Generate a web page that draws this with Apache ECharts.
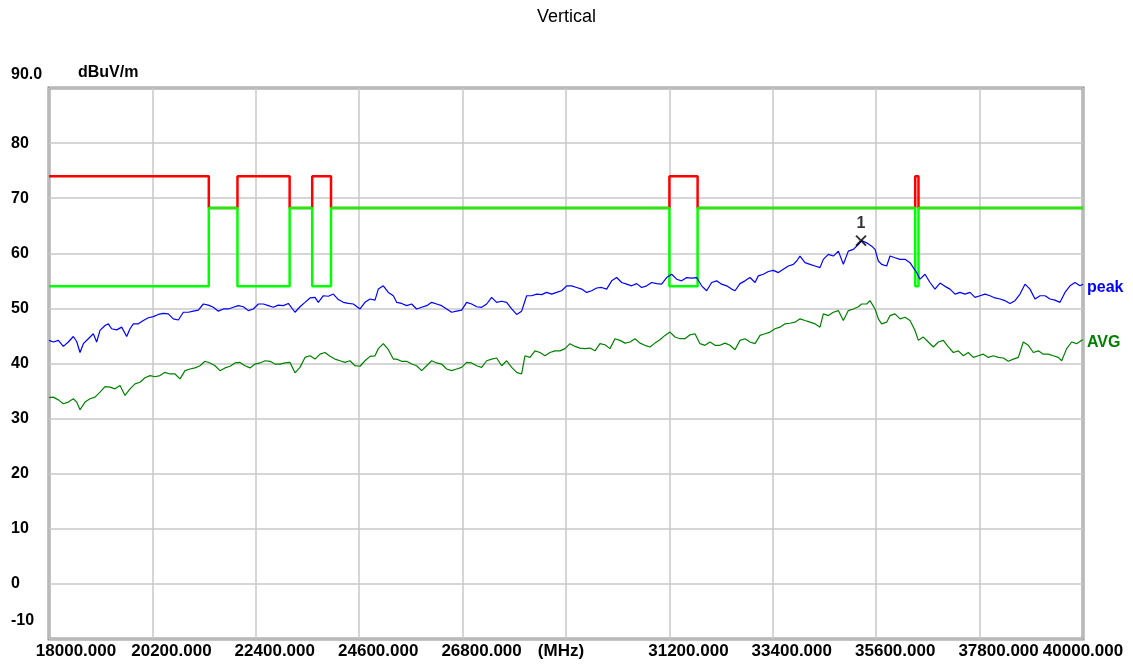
<!DOCTYPE html>
<html>
<head>
<meta charset="utf-8">
<script src="https://cdn.jsdelivr.net/npm/echarts@6/dist/echarts.min.js"></script>
<style>html,body{margin:0;padding:0;background:#fff;}#c{width:1133px;height:666px;}</style>
</head>
<body>
<div id="c"></div>
<script>
// ---- data ----
const titleText = 'Vertical';
const yUnit = 'dBuV/m';
const xTicks = [18000, 20200, 22400, 24600, 26800, 29000, 31200, 33400, 35600, 37800, 40000];
const xTickLabels = ['18000.000', '20200.000', '22400.000', '24600.000', '26800.000', '(MHz)', '31200.000', '33400.000', '35600.000', '37800.000', '40000.000'];
const yTicks = [-10, 0, 10, 20, 30, 40, 50, 60, 70, 80, 90];
const yTickLabels = ['-10', '0', '10', '20', '30', '40', '50', '60', '70', '80', '90.0'];

const restrictedBands = [[18000, 21400], [22010, 23120], [23600, 24000], [31200, 31800], [36430, 36500]];
const peakLimitRestricted = 74;
const avgLimitRestricted = 54;
const limitOther = 68.2;

const peakFreq = [18000,18092,18199,18305,18411,18518,18589,18660,18731,18837,
18943,19014,19085,19192,19262,19333,19440,19546,19653,19724,
19794,19901,20007,20114,20220,20326,20433,20539,20645,20752,
20858,20965,21071,21177,21284,21390,21496,21603,21709,21816,
21922,22028,22135,22241,22347,22454,22560,22667,22773,22879,
22986,23092,23234,23340,23447,23553,23660,23730,23837,23943,
24050,24156,24262,24369,24475,24617,24723,24830,24936,25007,
25113,25220,25326,
25397,25503,25610,25716,25822,25929,26035,26142,26248,26354,
26461,26567,26673,26780,26886,26993,27099,27205,27312,27418,
27524,27631,27737,27844,27950,28056,28163,28269,28375,28482,
28588,28695,28801,28907,29014,29120,29227,29333,29439,29546,
29652,29758,29865,29971,30078,30184,30290,30397,30503,30609,
30716,30822,30929,31035,31141,31248,31354,31460,31567,31673,
31780,31886,31992,32099,32205,32311,32418,32524,
32596,32702,32809,32915,33022,33092,33199,33305,33412,33518,
33624,33731,33837,33908,33979,34085,34192,34298,34404,34475,
34582,34688,34795,34901,35007,35114,35220,35291,35397,35504,
35575,35646,35716,35823,35894,36000,36107,36213,36319,36390,
36461,36532,36638,36745,36851,36957,37064,37170,37277,37383,
37489,37596,37702,37809,37915,38021,38128,38234,38341,38447,
38553,38660,38766,38872,38979,39085,39192,39298,39404,39511,
39617,39723,39830,39936,40000];
const peakLevel = [44.2,43.9,44.2,43.1,43.9,44.9,44.0,42.0,43.6,44.5,
45.4,43.9,46.0,46.9,47.2,46.3,46.1,46.6,44.9,46.3,
47.2,47.2,47.8,48.3,48.5,48.9,49.1,49.0,48.1,47.9,
49.3,49.3,49.5,49.7,50.8,50.6,50.2,49.5,49.9,49.9,
50.2,50.5,50.3,49.6,49.9,50.8,50.8,50.5,50.2,50.6,
50.5,50.9,49.3,50.3,51.1,51.9,52.0,51.1,52.3,52.2,
52.6,51.6,51.1,50.9,50.8,49.9,51.1,51.7,51.5,53.5,
54.1,52.9,52.3,
51.1,50.9,50.5,50.8,49.9,50.2,50.5,51.1,50.8,50.5,
49.9,49.3,49.5,49.7,51.1,50.8,50.3,50.2,50.8,52.0,
51.1,51.3,51.1,49.9,48.9,49.5,52.3,52.3,52.6,52.5,
52.9,52.6,52.9,53.2,54.1,54.1,53.8,53.5,52.9,53.2,
53.7,53.8,53.5,55.0,55.6,54.7,54.4,54.1,54.5,53.8,
54.1,54.7,54.5,54.4,55.6,56.2,55.3,55.0,55.6,55.5,
55.6,54.1,53.2,54.7,55.0,54.4,54.1,53.5,
53.2,54.5,55.0,55.6,54.7,55.9,56.2,56.7,56.9,56.5,
57.1,57.7,58.0,58.6,59.5,58.3,58.0,57.7,57.4,58.9,
59.8,59.5,60.4,58.0,60.4,60.7,61.6,62.3,61.9,61.3,
60.7,58.6,58.0,57.7,59.5,59.2,58.9,58.9,58.3,57.4,
56.5,55.3,56.2,54.7,53.5,54.6,54.0,53.5,52.6,52.9,
52.6,52.9,52.0,52.3,52.6,52.3,51.9,51.7,51.4,50.9,
51.4,52.6,54.4,53.5,51.7,52.3,52.3,51.7,51.5,51.1,
52.9,54.1,54.7,54.1,54.4];

const avgFreq = [18000,18092,18199,18305,18411,18518,18589,18660,18766,18872,
18979,19085,19192,19298,19404,19511,19617,19724,19830,19936,
20043,20149,20256,20362,20468,20575,20681,20788,20894,21000,
21107,21213,21319,21426,21532,21638,21745,21851,21958,22064,
22170,22277,22383,22490,22596,22702,22809,22915,23021,23128,
23234,23340,23447,23553,23660,23766,23872,23979,24085,24191,
24298,24404,24511,24617,24723,24830,24936,25007,25113,25220,
25326,
25397,25503,25610,25716,25822,25929,26035,26142,26248,26354,
26461,26567,26673,26780,26886,26993,27099,27205,27312,27418,
27524,27631,27737,27844,27950,28056,
28127,28234,28340,28446,28553,28659,28766,28872,28978,29085,
29191,29297,29404,29510,29617,29723,29829,29936,30042,30148,
30255,30361,30468,30574,30680,30787,30893,30999,31106,31212,
31319,31425,31531,31638,31744,31851,31957,32063,32170,32276,
32383,32489,32595,
32702,32809,32915,33022,33128,33234,33341,33447,33553,33660,
33766,33873,33979,34085,34192,34298,34404,34475,34582,34688,
34795,34901,35007,35114,35220,35291,35397,35468,35575,35646,
35716,35823,35894,36000,36107,36213,36319,36426,36497,36603,
36709,36816,36922,37028,37135,37241,37348,37454,37560,37667,
37773,37879,37986,38092,38199,38305,38411,38518,38624,38730,
38837,38943,39050,39156,39262,39369,39475,39546,39653,39759,
39865,39972,40000];
const avgLevel = [33.8,33.9,33.4,32.7,33.0,33.6,33.0,31.6,33.0,33.6,
33.9,34.8,35.8,35.7,35.4,36.0,34.2,35.4,36.3,36.6,
37.4,37.8,37.6,37.8,38.4,38.1,38.1,37.2,38.7,39.0,
39.2,39.6,40.4,40.1,39.6,38.7,39.2,39.5,40.1,40.2,
39.6,39.2,39.9,40.1,40.5,40.4,39.9,39.9,40.1,40.2,
38.3,39.3,41.1,41.4,40.8,41.7,42.0,41.3,40.8,40.5,
40.2,40.5,39.6,39.5,40.5,41.3,41.4,42.7,43.6,42.5,
40.8,
40.8,40.4,40.4,39.9,39.6,38.7,39.6,40.5,40.1,39.9,
39.0,38.7,39.0,39.3,40.2,40.1,39.6,39.3,40.5,40.8,
41.0,39.6,40.5,39.3,38.4,38.1,
41.4,41.1,42.3,42.0,41.4,42.0,42.3,42.3,42.7,43.6,
43.1,42.8,42.7,42.8,42.3,43.6,43.4,42.7,44.5,44.2,
43.7,43.9,44.5,43.7,43.3,43.0,43.7,44.3,45.1,45.7,
44.8,44.5,44.5,45.2,45.4,43.6,43.3,43.9,43.3,43.3,
43.7,43.3,42.5,
44.2,44.5,43.9,43.6,45.1,45.4,45.7,46.3,46.6,47.2,
47.3,47.5,48.1,47.8,47.5,47.2,46.6,49.0,48.7,49.3,
49.6,47.8,49.6,49.9,50.3,50.8,50.8,51.4,49.9,48.1,
47.2,47.5,48.7,49.0,48.1,48.4,47.8,46.0,44.2,44.8,
43.9,43.0,43.9,44.2,43.0,42.0,42.3,41.4,42.0,41.1,
41.4,41.7,41.1,41.4,41.1,41.0,40.4,40.8,41.1,43.9,
43.3,42.0,42.3,41.7,41.7,41.4,41.1,40.5,42.7,43.9,
43.6,44.2,44.3];

const markerFreq = [35277];
const markerLevel = [62.3];
const markerLabels = ['1'];

// ---- build ----
function stepLimit(inside) {
  const pts = [];
  let prevEnd = 18000;
  restrictedBands.forEach(([a, b]) => {
    if (a > prevEnd) { pts.push([prevEnd, limitOther], [a, limitOther]); }
    pts.push([a, inside], [b, inside]);
    prevEnd = b;
  });
  if (prevEnd < 40000) pts.push([prevEnd, limitOther], [40000, limitOther]);
  return pts;
}
const zip = (xs, ys) => xs.map((x, i) => [x, ys[i]]);
const FONT = 'Liberation Sans, Arial, sans-serif';

const xRich = {
  first: { padding: [0, 0, 0, 54], fontSize: 17, fontWeight: 'bold', color: '#000', fontFamily: FONT },
  mid: { padding: [0, 0, 0, 38], fontSize: 17, fontWeight: 'bold', color: '#000', fontFamily: FONT },
  unit: { padding: [0, 10, 0, 0], fontSize: 17, fontWeight: 'bold', color: '#000', fontFamily: FONT },
  last: { fontSize: 17, fontWeight: 'bold', color: '#000', fontFamily: FONT }
};
const yRich = {
  n: { fontSize: 16, fontWeight: 'bold', color: '#000', fontFamily: FONT },
  top: { padding: [0, 0, 26, 0], fontSize: 16, fontWeight: 'bold', color: '#000', fontFamily: FONT },
  bot: { padding: [0, 0, 36, 0], fontSize: 16, fontWeight: 'bold', color: '#000', fontFamily: FONT }
};

const chart = echarts.init(document.getElementById('c'), null, { renderer: 'canvas' });
chart.setOption({
  animation: false,
  backgroundColor: '#fff',
  title: {
    text: titleText, left: 'center', top: 3,
    textStyle: { fontSize: 18, fontWeight: 'normal', color: '#000', fontFamily: FONT }
  },
  graphic: [{
    type: 'text', left: 78, top: 65,
    style: { text: yUnit, fontSize: 16, fontWeight: 'bold', fill: '#000', fontFamily: FONT }
  }],
  grid: { left: 49, right: 50, top: 88, bottom: 27, show: true, borderColor: '#8c8c8c', borderWidth: 3, backgroundColor: '#fff' },
  xAxis: {
    type: 'value', min: 18000, max: 40000,
    axisLine: { show: false },
    axisTick: { show: false, customValues: xTicks },
    splitLine: { show: true, lineStyle: { color: '#c8c8c8', width: 1.5 } },
    axisLabel: {
      customValues: xTicks, margin: 4, verticalAlign: 'top',
      formatter: function (v) {
        const i = xTicks.indexOf(v);
        const t = i >= 0 ? xTickLabels[i] : '';
        const cls = i === 0 ? 'first' : (i === xTicks.length - 1 ? 'last' : (t === '(MHz)' ? 'unit' : 'mid'));
        return '{' + cls + '|' + t + '}';
      },
      rich: xRich
    }
  },
  yAxis: {
    type: 'value', min: -10, max: 90, interval: 10,
    axisLine: { show: false },
    axisTick: { show: false },
    splitLine: { show: true, lineStyle: { color: '#c8c8c8', width: 1.5 } },
    axisLabel: {
      align: 'left', margin: 38,
      formatter: function (v) {
        const i = yTicks.indexOf(v);
        const t = i >= 0 ? yTickLabels[i] : '';
        const cls = v === 90 ? 'top' : (v === -10 ? 'bot' : 'n');
        return '{' + cls + '|' + t + '}';
      },
      rich: yRich
    }
  },
  series: [
    {
      name: 'peak limit', type: 'line', data: stepLimit(peakLimitRestricted), symbol: 'none',
      lineStyle: { color: '#ff0000', width: 2.5 }, z: 2
    },
    {
      name: 'avg limit', type: 'line', data: stepLimit(avgLimitRestricted), symbol: 'none',
      lineStyle: { color: '#00ff00', width: 2.5 }, z: 3
    },
    {
      name: 'peak', type: 'line', data: zip(peakFreq, peakLevel), symbol: 'none',
      lineStyle: { color: '#0000ff', width: 1.2 }, z: 4,
      endLabel: { show: true, formatter: 'peak', color: '#0000ff', fontWeight: 'bold', fontSize: 16, fontFamily: FONT, distance: 4, offset: [0, 3] }
    },
    {
      name: 'AVG', type: 'line', data: zip(avgFreq, avgLevel), symbol: 'none',
      lineStyle: { color: '#008000', width: 1.2 }, z: 4,
      endLabel: { show: true, formatter: 'AVG', color: '#008000', fontWeight: 'bold', fontSize: 16, fontFamily: FONT, distance: 4, offset: [0, 3] }
    },
    {
      name: 'marker', type: 'scatter', data: zip(markerFreq, markerLevel),
      symbol: 'path://M0,0L10,10M10,0L0,10', symbolSize: 10,
      itemStyle: { color: 'none', borderColor: '#000', borderWidth: 2 }, z: 6,
      label: {
        show: true, position: 'top', distance: 2,
        formatter: function (p) { return markerLabels[p.dataIndex]; },
        color: '#000', fontWeight: 'bold', fontSize: 16, fontFamily: FONT
      }
    }
  ]
});
</script>
</body>
</html>
